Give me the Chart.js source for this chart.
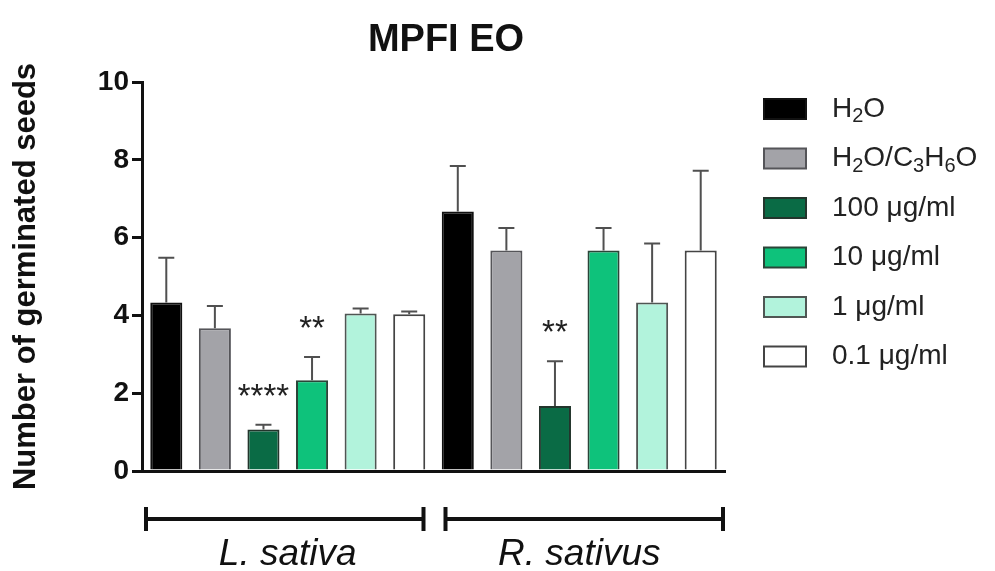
<!DOCTYPE html>
<html>
<head>
<meta charset="utf-8">
<script src="https://cdn.jsdelivr.net/npm/chart.js@4.4.1/dist/chart.umd.min.js"></script>
<style>
  html, body { margin: 0; padding: 0; background: #fff; }
  canvas { display: block; }
</style>
</head>
<body>
<canvas id="mpfiChart" width="995" height="571"></canvas>
<script>
// ---------------- data ----------------
const species = ['L. sativa', 'R. sativus'];
const treatments = ['H₂O', 'H₂O/C₃H₆O', '100 μg/ml', '10 μg/ml', '1 μg/ml', '0.1 μg/ml'];

const lSativaMeans = [4.33, 3.67, 1.07, 2.33, 4.05, 4.03];
const lSativaErr   = [1.15, 0.57, 0.12, 0.60, 0.13, 0.07];
const lSativaSig   = ['', '', '****', '**', '', ''];

const rSativusMeans = [6.67, 5.67, 1.67, 5.67, 4.33, 5.67];
const rSativusErr   = [1.17, 0.58, 1.15, 0.58, 1.52, 2.05];
const rSativusSig   = ['', '', '**', '', '', ''];

const yTicks = [0, 2, 4, 6, 8, 10];

// ---------------- styles ----------------
const FONT = '"Liberation Sans", Arial, Helvetica, sans-serif';
const fills   = ['#000000', '#a3a3a8', '#0a6b45', '#0ec27b', '#b2f3dc', '#ffffff'];
const borders = ['#111111', '#555559', '#23352c', '#2a4538', '#4f5653', '#444444'];

const datasets = treatments.map((name, i) => ({
    label: name,
    data: [lSativaMeans[i], rSativusMeans[i]],
    err: [lSativaErr[i], rSativusErr[i]],
    sig: [lSativaSig[i], rSativusSig[i]],
    backgroundColor: fills[i],
    borderColor: borders[i],
    borderWidth: 2
}));

// text with unicode subscripts drawn as small lowered digits
function drawRichText(ctx, text, x, y, size) {
    const subs = '₀₁₂₃₄₅₆₇₈₉';
    let cx = x;
    let run = '';
    const flush = () => {
        if (!run) return;
        ctx.font = `${size}px ${FONT}`;
        ctx.fillText(run, cx, y);
        cx += ctx.measureText(run).width;
        run = '';
    };
    for (const ch of text) {
        const k = subs.indexOf(ch);
        if (k >= 0) {
            flush();
            ctx.font = `${Math.round(size * 0.72)}px ${FONT}`;
            ctx.fillText(String(k), cx, y + size * 0.27);
            cx += ctx.measureText(String(k)).width;
        } else {
            run += ch;
        }
    }
    flush();
}

const extras = {
    id: 'extras',
    afterDatasetsDraw(chart) { // error bars + significance stars
        const { ctx, scales: { y } } = chart;
        chart.data.datasets.forEach((ds, di) => {
            chart.getDatasetMeta(di).data.forEach((bar, j) => {
                const top = y.getPixelForValue(ds.data[j] + ds.err[j]);
                ctx.save();
                ctx.strokeStyle = '#505050';
                ctx.lineWidth = 2;
                ctx.beginPath();
                ctx.moveTo(bar.x, bar.y);
                ctx.lineTo(bar.x, top);
                ctx.moveTo(bar.x - 8, top);
                ctx.lineTo(bar.x + 8, top);
                ctx.stroke();
                if (ds.sig[j]) {
                    ctx.fillStyle = '#222';
                    ctx.font = `33px ${FONT}`;
                    ctx.textAlign = 'center';
                    ctx.textBaseline = 'alphabetic';
                    ctx.fillText(ds.sig[j], bar.x, top - 18);
                }
                ctx.restore();
            });
        });
    },
    afterDraw(chart) {
        const { ctx, chartArea, scales: { x } } = chart;
        ctx.save();

        // title
        ctx.fillStyle = '#111';
        ctx.font = `bold 38px ${FONT}`;
        ctx.textAlign = 'center';
        ctx.textBaseline = 'middle';
        ctx.fillText('MPFI EO', 446, 41);

        // group brackets under the axis
        const step = x.width / species.length;
        const by = chartArea.bottom + 48;
        ctx.strokeStyle = '#111';
        ctx.lineWidth = 4;
        species.forEach((s, i) => {
            const start = x.left + i * step;
            const a = start + (i === 0 ? 4 : 12);
            const b = start + step - (i === species.length - 1 ? 2 : 10);
            ctx.beginPath();
            ctx.moveTo(a, by);
            ctx.lineTo(b, by);
            ctx.moveTo(a, by - 12);
            ctx.lineTo(a, by + 12);
            ctx.moveTo(b, by - 12);
            ctx.lineTo(b, by + 12);
            ctx.stroke();
        });

        // legend
        const lx = chartArea.right + 39;
        ctx.textAlign = 'left';
        ctx.textBaseline = 'middle';
        chart.data.datasets.forEach((ds, i) => {
            const cy = 109 + i * 49.5;
            ctx.fillStyle = ds.backgroundColor;
            ctx.fillRect(lx, cy - 10, 42, 20);
            ctx.strokeStyle = ds.borderColor;
            ctx.lineWidth = 2;
            ctx.strokeRect(lx, cy - 10, 42, 20);
            ctx.fillStyle = '#222';
            drawRichText(ctx, ds.label, lx + 68, cy, 28);
        });
        ctx.restore();
    }
};

new Chart(document.getElementById('mpfiChart'), {
    type: 'bar',
    data: { labels: species, datasets: datasets },
    options: {
        responsive: false,
        animation: false,
        layout: { padding: { top: 82, right: 270, left: 0, bottom: 0 } },
        datasets: { bar: { barPercentage: 0.66, categoryPercentage: 1.0 } },
        plugins: {
            legend: { display: false },
            title: { display: false },
            tooltip: { enabled: false }
        },
        scales: {
            x: {
                grid: { display: false },
                border: { display: true, width: 3, color: '#111' },
                ticks: {
                    color: '#111',
                    padding: 54,
                    font: { family: FONT, size: 37, style: 'italic' }
                },
                afterFit: (scale) => { scale.height = 100; }
            },
            y: {
                min: 0,
                max: 10,
                afterBuildTicks: (scale) => { scale.ticks = yTicks.map(v => ({ value: v })); },
                grid: { drawOnChartArea: false, drawTicks: true, tickLength: 10, lineWidth: 3, color: '#111' },
                border: { display: true, width: 3, color: '#111' },
                ticks: {
                    color: '#111',
                    padding: 3,
                    font: { family: FONT, size: 28, weight: 'bold' }
                },
                title: {
                    display: true,
                    text: 'Number of germinated seeds',
                    color: '#111',
                    padding: { top: 8, bottom: 0 },
                    font: { family: FONT, size: 31, weight: 'bold' }
                },
                afterFit: (scale) => { scale.width = 142; }
            }
        }
    },
    plugins: [extras]
});
</script>
</body>
</html>
